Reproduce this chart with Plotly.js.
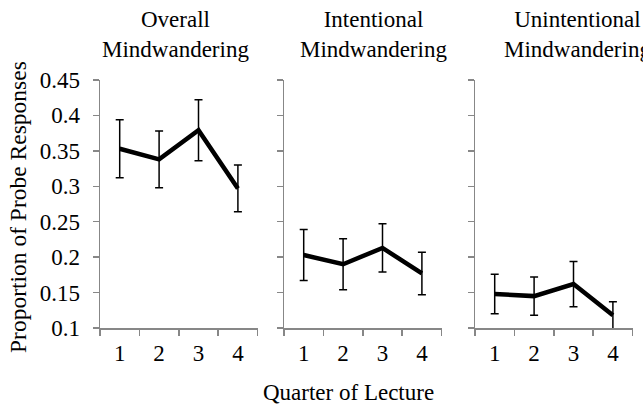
<!DOCTYPE html>
<html>
<head>
<meta charset="utf-8">
<script src="https://cdn.plot.ly/plotly-3.0.1.min.js"></script>
<style>html,body{margin:0;padding:0;background:#fff;}#chart{width:643px;height:407px;}</style>
</head>
<body>
<div id="chart"></div>
<script>
const quarters = ['1', '2', '3', '4'];
const panelTitles = ['Overall<br>Mindwandering', 'Intentional<br>Mindwandering', 'Unintentional<br>Mindwandering'];
const overall = [0.353, 0.338, 0.379, 0.297];
const overallErr = [0.041, 0.040, 0.043, 0.033];
const intentional = [0.203, 0.190, 0.213, 0.177];
const intentionalErr = [0.036, 0.036, 0.034, 0.030];
const unintentional = [0.148, 0.145, 0.162, 0.118];
const unintentionalErr = [0.028, 0.027, 0.032, 0.019];
const yTitle = 'Proportion of Probe Responses';
const xTitle = 'Quarter of Lecture';

const FONT = '"Liberation Serif", "Times New Roman", serif';
const W = 643, H = 407;
const series = [[overall, overallErr], [intentional, intentionalErr], [unintentional, unintentionalErr]];
const xPix = [[100, 257.6], [284, 441.6], [475, 632.6]];
const titleCenters = [175, 373, 577];
const yDom = [1 - 328 / H, 1 - 80 / H];

const traces = series.map((s, i) => ({
  type: 'scatter', mode: 'lines',
  x: quarters, y: s[0],
  xaxis: i === 0 ? 'x' : 'x' + (i + 1),
  yaxis: i === 0 ? 'y' : 'y' + (i + 1),
  line: {color: '#000', width: 4.5},
  error_y: {type: 'data', array: s[1], visible: true, color: '#000', thickness: 1.5, width: 4},
  showlegend: false, hoverinfo: 'skip'
}));

const layout = {
  width: W, height: H,
  margin: {l: 0, r: 0, t: 0, b: 0},
  paper_bgcolor: '#fff', plot_bgcolor: '#fff',
  font: {family: FONT, size: 23, color: '#000'},
  showlegend: false,
  annotations: []
};
for (let i = 0; i < 3; i++) {
  const sx = i === 0 ? '' : String(i + 1);
  layout['xaxis' + sx] = {
    type: 'category', range: [-0.5, 3.5],
    domain: [xPix[i][0] / W, xPix[i][1] / W],
    anchor: 'y' + sx,
    showline: true, linecolor: '#878787', linewidth: 1.5,
    ticks: 'outside', tickson: 'boundaries', ticklen: 6, tickwidth: 1.5, tickcolor: '#878787',
    showgrid: false, zeroline: false, ticklabelstandoff: 4,
    tickfont: {family: FONT, size: 23, color: '#000'}
  };
  layout['yaxis' + sx] = {
    range: [0.1, 0.45], dtick: 0.05, tick0: 0.1,
    domain: yDom,
    anchor: 'x' + sx,
    showline: true, linecolor: '#878787', linewidth: 1.5,
    ticks: 'outside', ticklen: 6, tickwidth: 1.5, tickcolor: '#878787',
    showgrid: false, zeroline: false, ticklabelstandoff: 8,
    showticklabels: i === 0,
    tickfont: {family: FONT, size: 23, color: '#000'}
  };
  layout.annotations.push({
    text: panelTitles[i], xref: 'paper', yref: 'paper',
    x: titleCenters[i] / W, y: 1 - 5 / H, xanchor: 'center', yanchor: 'top',
    showarrow: false, align: 'center',
    font: {family: FONT, size: 23, color: '#000'}
  });
}
layout.annotations.push({
  text: xTitle, xref: 'paper', yref: 'paper',
  x: 348.5 / W, y: 1 - 392 / H, xanchor: 'center', yanchor: 'middle',
  showarrow: false, font: {family: FONT, size: 23, color: '#000'}
});
layout.annotations.push({
  text: yTitle, xref: 'paper', yref: 'paper', textangle: -90,
  x: 18 / W, y: 1 - 207 / H, xanchor: 'center', yanchor: 'middle',
  showarrow: false, font: {family: FONT, size: 23.5, color: '#000'}
});

Plotly.newPlot('chart', traces, layout, {displayModeBar: false, staticPlot: true});
</script>
</body>
</html>
